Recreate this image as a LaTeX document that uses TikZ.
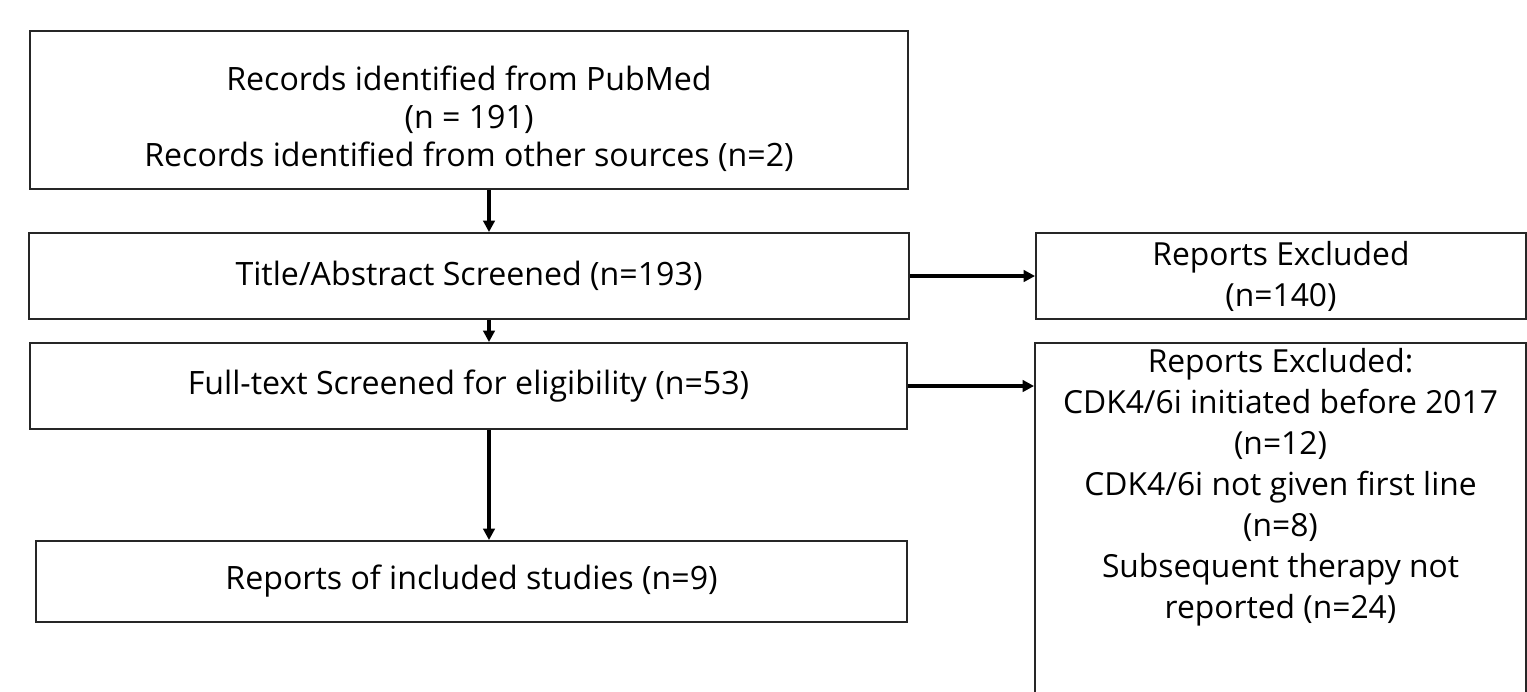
\documentclass[tikz,border=0pt]{standalone}
\usepackage{fontspec}
\setmainfont{Open Sans}
\usetikzlibrary{positioning, arrows.meta}

\tikzset{
  box/.style={draw=black!85, line width=1.1pt, align=center, inner sep=4pt,
    font=\fontsize{18.3pt}{21.8pt}\selectfont},
  sidebox/.style={box, font=\fontsize{18.1pt}{23.3pt}\selectfont},
  flow/.style={-{Triangle[length=6.5pt,width=6.5pt]}, line width=2pt},
}

\begin{document}
\begin{tikzpicture}[x=0.02cm, y=-0.02cm]
  \useasboundingbox (0,0) rectangle (1527,691);

  \node[box, minimum width=17.56cm, minimum height=3.16cm, text height=67.7pt] (records) at (469,110)
    {Records identified from PubMed\\(n = 191)\\Records identified from other sources (n=2)};
  \node[box, minimum width=17.6cm, minimum height=1.72cm] (screen) at (469,276)
    {Title/Abstract Screened (n=193)};
  \node[box, minimum width=17.54cm, minimum height=1.72cm] (fulltext) at (468.5,386)
    {Full-text Screened for eligibility (n=53)};
  \node[box, minimum width=17.42cm, minimum height=1.62cm] (included) at (471.5,581.5)
    {Reports of included studies (n=9)};

  \node[sidebox, minimum width=9.8cm, minimum height=1.72cm] (excl1) at (1281,276)
    {Reports Excluded\\(n=140)};
  \node[sidebox, minimum width=9.82cm, anchor=north, inner ysep=3pt, text depth=195pt] (excl2) at (1280.5,342)
    {Reports Excluded:\\CDK4/6i initiated before 2017\\(n=12)\\CDK4/6i not given first line\\(n=8)\\Subsequent therapy not\\reported (n=24)};

  \coordinate (spine) at (489,0);
  \draw[flow] (records.south -| spine) -- (screen.north -| spine);
  \draw[flow] (screen.south -| spine) -- (fulltext.north -| spine);
  \draw[flow] (fulltext.south -| spine) -- (included.north -| spine);
  \draw[flow] (screen.east) -- (excl1.west);
  \draw[flow] (fulltext.east) -- (fulltext.east -| excl2.west);
\end{tikzpicture}
\end{document}
